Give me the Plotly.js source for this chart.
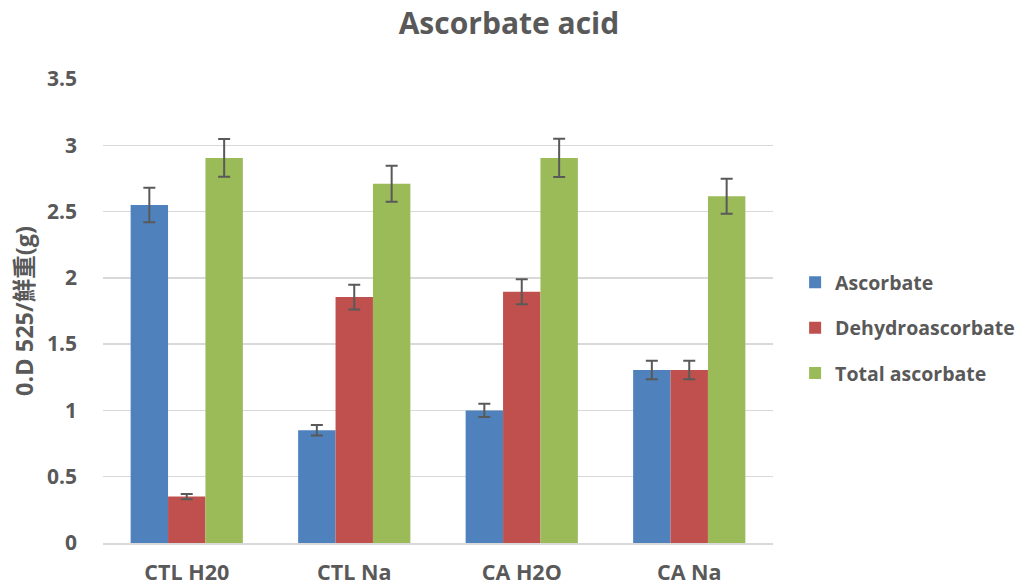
<!DOCTYPE html>
<html>
<head>
<meta charset="utf-8">
<script src="https://cdn.plot.ly/plotly-3.0.1.min.js"></script>
<style>html,body{margin:0;padding:0;background:#fff;}#chart{width:1022px;height:587px;}</style>
</head>
<body>
<div id="chart"></div>
<script>
const categories = ["CTL H20", "CTL Na", "CA H2O", "CA Na"];
const seriesNames = ["Ascorbate", "Dehydroascorbate", "Total ascorbate"];
const ascorbate = [2.55, 0.85, 1.00, 1.305];
const ascorbateErr = [0.13, 0.04, 0.05, 0.07];
const dehydro = [0.35, 1.855, 1.895, 1.305];
const dehydroErr = [0.02, 0.093, 0.095, 0.07];
const total = [2.905, 2.71, 2.905, 2.615];
const totalErr = [0.143, 0.135, 0.145, 0.132];
const colors = ["#4f81bd", "#c0504d", "#9bbb59"];
const yTicks = [0, 0.5, 1, 1.5, 2, 2.5, 3, 3.5];
const yTickText = ["0", "0.5", "1", "1.5", "2", "2.5", "3", "3.5"];

const FONT = "'Open Sans', 'Noto Sans CJK TC', sans-serif";
const GRAY = "#595959";

function mk(name, y, err, color, i) {
  return {
    type: "bar", name: "<b>" + name + "</b>", x: categories, y: y,
    marker: {color: color, line: {width: 0}},
    error_y: {type: "data", array: err, visible: true, color: GRAY, thickness: 2, width: 6},
    legendgroup: "g" + i
  };
}
const data = [
  mk(seriesNames[0], ascorbate, ascorbateErr, colors[0], 0),
  mk(seriesNames[1], dehydro, dehydroErr, colors[1], 1),
  mk(seriesNames[2], total, totalErr, colors[2], 2)
];
const layout = {
  width: 1022, height: 587,
  margin: {l: 103, r: 249, t: 79, b: 44, pad: 0, autoexpand: false},
  paper_bgcolor: "#fff", plot_bgcolor: "#fff",
  font: {family: FONT, color: GRAY},
  title: {text: "<b>Ascorbate acid</b>", font: {size: 30, color: GRAY, family: FONT}, x: 0.498, xanchor: "center", xref: "container", y: 0.96, yanchor: "middle"},
  barmode: "group", bargap: 0.33, bargroupgap: 0,
  xaxis: {
    type: "category", showgrid: false, zeroline: false, showline: true, linecolor: "#d9d9d9", linewidth: 1.5,
    ticks: "", tickfont: {size: 21.5, color: GRAY, family: FONT}, ticklabelstandoff: 10,
    tickvals: categories, ticktext: categories.map(c => "<b>" + c + "</b>")
  },
  yaxis: {
    range: [0, 3.5], tickvals: yTicks, ticktext: yTickText.map(t => "<b>" + t + "</b>"),
    showgrid: true, gridcolor: "#d9d9d9", gridwidth: 1.5, zeroline: false, showline: false,
    ticks: "", tickfont: {size: 21, color: GRAY, family: FONT}, ticklabelstandoff: 25,
    title: {text: "<b>0.D 525/鮮重(g)</b>", font: {size: 23.5, color: GRAY, family: FONT}, standoff: 6}
  },
  legend: {
    x: 1.033, xanchor: "left", y: 0.463, yanchor: "middle",
    font: {size: 19.5, color: GRAY, family: FONT}, tracegroupgap: 17,
    traceorder: "grouped", itemwidth: 30, bgcolor: "rgba(0,0,0,0)"
  },
  showlegend: true
};
Plotly.newPlot("chart", data, layout, {displayModeBar: false, staticPlot: true});
</script>
</body>
</html>
